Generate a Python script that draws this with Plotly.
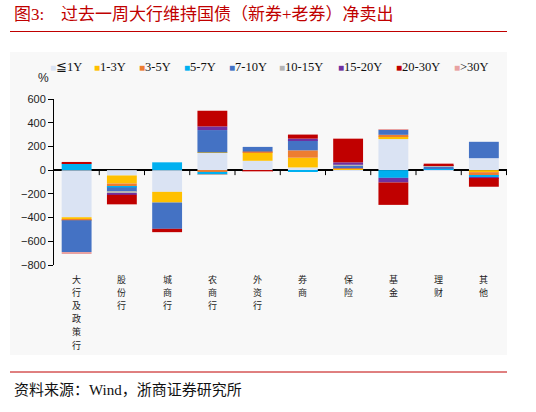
import plotly.graph_objects as go

categories = ["大行及政策行", "股份行", "城商行", "农商行", "外资行",
              "券商", "保险", "基金", "理财", "其他"]

series_names = ["≦1Y", "1-3Y", "3-5Y", "5-7Y", "7-10Y",
                "10-15Y", "15-20Y", "20-30Y", ">30Y"]

le_1y = [-397, -45, -183, 146, 79, 23, 5, 262, 5, 101]
y1_3 = [-22, -68, -90, 3, 73, 82, 8, 22, 0, -17]
y3_5 = [-4, -28, 0, -15, 5, 62, 3, 14, 0, -31]
y5_7 = [57, -5, 66, -20, 0, -12, 0, -65, 5, -11]
y7_10 = [-268, -37, -222, 189, 39, 85, 25, 42, 20, 138]
y10_15 = [0, -10, 0, -3, 0, 0, 5, 0, 5, 0]
y15_20 = [0, -15, 0, 31, 0, 14, 20, -39, 5, -8]
y20_30 = [12, -79, -28, 132, -10, 34, 197, -189, 12, -73]
gt_30y = [-8, -3, 0, 0, -5, 0, 3, 5, 3, 0]

series_values = [le_1y, y1_3, y3_5, y5_7, y7_10, y10_15, y15_20, y20_30, gt_30y]

colors = ["#dae3f3", "#ffc000", "#ed7d31", "#00b0f0", "#4472c4",
          "#b4b4b4", "#7030a0", "#c00000", "#e8a2a2"]

y_ticks = [600, 400, 200, 0, -200, -400, -600, -800]

# plot area in pixels (536x412 page)
W, H = 536, 412
L, R, T, B = 54, 29, 99, 147
PW, PH = W - L - R, H - T - B


def px(x):
    return (x - L) / PW


def py(y):
    return (H - B - y) / PH


fig = go.Figure()
for name, vals, col in zip(series_names, series_values, colors):
    fig.add_trace(go.Bar(x=categories, y=vals, name=name,
                         marker_color=col, marker_line_width=0,
                         showlegend=False))

red = "#c00000"
serif_cjk = "Liberation Serif, Noto Sans CJK SC"
shapes = [
    # light chart background
    dict(type="rect", xref="paper", yref="paper", x0=px(10), x1=px(507),
         y0=py(355), y1=py(52), fillcolor="#f8f8f8", line_width=0, layer="below"),
    # red rules
    dict(type="line", xref="paper", yref="paper", x0=px(10), x1=px(507),
         y0=py(31.5), y1=py(31.5), line=dict(color=red, width=1)),
    dict(type="line", xref="paper", yref="paper", x0=px(10), x1=px(507),
         y0=py(372), y1=py(372), line=dict(color=red, width=1)),
]
# small tick marks on the zero line between categories
for k in range(len(categories)):
    shapes.append(dict(type="line", xref="x", yref="y", ysizemode="pixel",
                       yanchor=0, x0=k + 0.5, x1=k + 0.5, y0=0, y1=-5,
                       line=dict(color="black", width=1)))

annotations = [
    dict(text="图3:", x=px(12), y=py(14), xref="paper", yref="paper",
         xanchor="left", yanchor="middle", showarrow=False,
         font=dict(family=serif_cjk, size=17, color=red)),
    dict(text="过去一周大行维持国债（新券+老券）净卖出", x=px(59), y=py(14),
         xref="paper", yref="paper", xanchor="left", yanchor="middle",
         showarrow=False, font=dict(family=serif_cjk, size=17, color=red)),
    dict(text="资料来源：Wind，浙商证券研究所", x=px(12), y=py(390),
         xref="paper", yref="paper", xanchor="left", yanchor="middle",
         showarrow=False, font=dict(family=serif_cjk, size=15, color="#111")),
    dict(text="%", x=px(43), y=py(78), xref="paper", yref="paper",
         xanchor="center", yanchor="middle", showarrow=False,
         font=dict(family="Liberation Sans", size=12, color="#222")),
]

legend_x = [48, 92, 137, 182, 227, 277, 336, 394, 452]
for name, col, lx in zip(series_names, colors, legend_x):
    annotations.append(dict(
        text=f'<span style="color:{col};font-size:10px">■</span>{name}',
        x=px(lx), y=py(67), xref="paper", yref="paper",
        xanchor="left", yanchor="middle", showarrow=False,
        font=dict(family="Liberation Serif", size=12.5, color="#111")))

# vertical category labels, one character per row
for k, cat in enumerate(categories):
    for j, ch in enumerate(cat):
        annotations.append(dict(
            text=ch, x=k, xref="x", y=py(279 + 13.2 * j), yref="paper",
            xanchor="center", yanchor="middle", showarrow=False,
            font=dict(family="Noto Sans CJK SC", size=9, color="#222")))

fig.update_layout(
    width=W, height=H,
    margin=dict(l=L, r=R, t=T, b=B),
    paper_bgcolor="white",
    plot_bgcolor="rgba(0,0,0,0)",
    barmode="relative",
    bargap=0.34,
    shapes=shapes,
    annotations=annotations,
    xaxis=dict(
        type="category",
        showticklabels=False,
        showgrid=False, showline=False, ticks="",
    ),
    yaxis=dict(
        range=[-800, 600],
        tickvals=y_ticks,
        showgrid=False,
        showline=True, linecolor="black", linewidth=1,
        ticks="outside", ticklen=5, tickcolor="black",
        zeroline=True, zerolinecolor="black", zerolinewidth=1.5,
        tickfont=dict(family="Liberation Sans", size=11, color="#222"),
    ),
)

fig.write_html("out.html", config={"displayModeBar": False},
               post_script="document.body.style.margin='0px';")
